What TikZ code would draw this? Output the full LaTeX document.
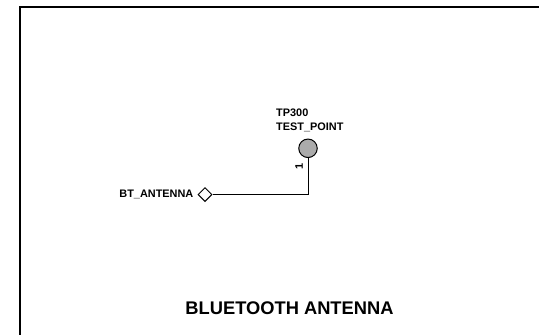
\documentclass[tikz,border=0pt]{standalone}
\usepackage{fontspec}
\setmainfont{Liberation Sans}
\usetikzlibrary{positioning,shapes.geometric}
\tikzset{
  netlabel/.style={font=\bfseries\fontsize{10.9}{13}\selectfont,inner sep=0pt},
  port/.style={draw,diamond,aspect=1,inner sep=0pt,minimum size=14pt,line width=1pt},
  testpoint/.style={draw,circle,fill=black!33,inner sep=0pt,minimum size=18.5pt,line width=1pt}
}
\begin{document}
\begin{tikzpicture}[x=1pt,y=-1pt]
        \useasboundingbox (0,0) rectangle (539,335);
        % sheet border
        \coordinate (tl) at (20,6.5);
        \coordinate (tr) at (539,6.5);
        \coordinate (bl) at (20,335);
        \draw[line width=2pt] (bl) -- (tl) -- (tr);
        \node[testpoint] (tp) at (308,148.3) {};
        \node[port] (ant) at (205,194.5) {};
        \coordinate (bend) at (308,194.5);
        \draw[line width=1pt] (tp) -- (bend) -- (ant);
        \node[netlabel,anchor=east] (antlabel) at (193.5,194.5) {BT\_ANTENNA};
        \node[netlabel,anchor=west] (tpname) at (276,113) {TP300};
        \node[netlabel,anchor=west] (tptype) at (276,127) {TEST\_POINT};
        \node[netlabel,rotate=90] (pin) at (299,166) {1};
        \node[font=\bfseries\fontsize{18.3}{21}\selectfont,inner sep=0pt] (title) at (289.5,308) {BLUETOOTH ANTENNA};
      \end{tikzpicture}
\end{document}
